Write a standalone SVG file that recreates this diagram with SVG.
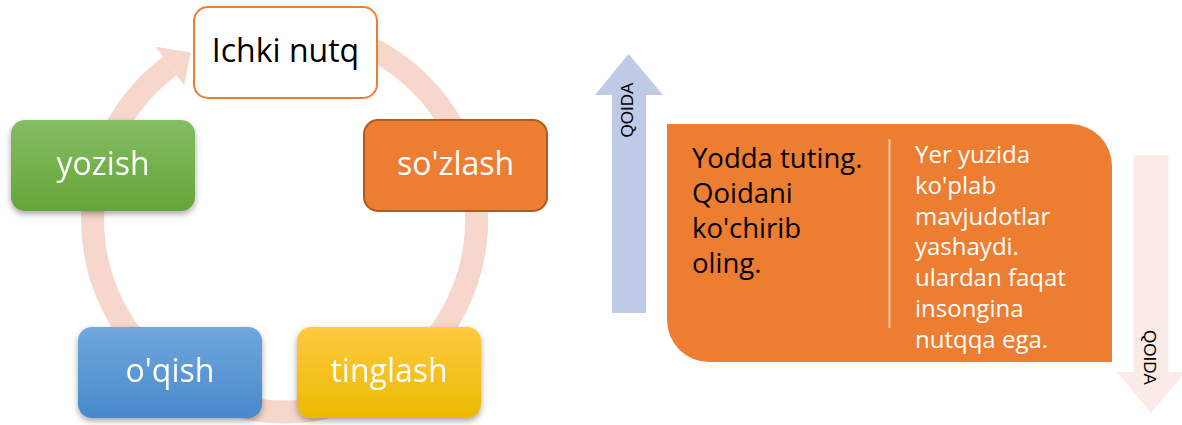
<svg xmlns="http://www.w3.org/2000/svg" width="1182" height="425" viewBox="0 0 1182 425">
<defs>
<linearGradient id="gGreen" x1="0" y1="0" x2="0" y2="1"><stop offset="0" stop-color="#85BD63"/><stop offset="1" stop-color="#64A538"/></linearGradient>
<linearGradient id="gBlue" x1="0" y1="0" x2="0" y2="1"><stop offset="0" stop-color="#70A7DD"/><stop offset="1" stop-color="#4889CB"/></linearGradient>
<linearGradient id="gYellow" x1="0" y1="0" x2="0" y2="1"><stop offset="0" stop-color="#FFC941"/><stop offset="1" stop-color="#EBBA00"/></linearGradient>
<filter id="shadow" x="-10%" y="-10%" width="120%" height="130%"><feDropShadow dx="0" dy="3" stdDeviation="3" flood-color="#000" flood-opacity="0.35"/></filter>
</defs>
<style>
.node rect{rx:14px;ry:14px}
.lbl{font-family:"Open Sans","Noto Sans",sans-serif;font-size:32px;text-anchor:middle;fill:#fff}
.dark{fill:#000}
.ring{fill:none;stroke:#F7D6CB;stroke-width:23}
.qoida{font-family:"Liberation Sans",Arial,sans-serif;font-size:17px;text-anchor:middle;fill:#000}
.body{font-family:"Open Sans","Noto Sans",sans-serif}
</style>
<g id="connectors">
<path class="ring" d="M 334.2 34.5 A 192 192 0 1 1 169.8 66.1"/>
<polygon points="155.4,46.8 190.8,52.4 184.1,85.3" fill="#F7D6CB"/>
</g>
<g id="node-ichki" class="node">
<rect x="194" y="7" width="183" height="91" fill="#fff" stroke="#ED7D31" stroke-width="2"/>
<text class="lbl dark" x="285.5" y="62">Ichki nutq</text>
</g>
<g id="node-sozlash" class="node">
<rect x="364" y="120" width="183" height="91" fill="#ED7D31" stroke="#AE5A21" stroke-width="2"/>
<text class="lbl" x="455.5" y="175">so'zlash</text>
</g>
<g id="node-tinglash" class="node" filter="url(#shadow)">
<rect x="297" y="327" width="184" height="91" fill="url(#gYellow)"/>
<text class="lbl" x="389" y="382">tinglash</text>
</g>
<g id="node-oqish" class="node" filter="url(#shadow)">
<rect x="78" y="327" width="184" height="91" fill="url(#gBlue)"/>
<text class="lbl" x="170" y="382">o'qish</text>
</g>
<g id="node-yozish" class="node" filter="url(#shadow)">
<rect x="11" y="120" width="184" height="91" fill="url(#gGreen)"/>
<text class="lbl" x="103" y="175">yozish</text>
</g>
<g id="arrow-up">
<polygon points="612,313 612,95 595,95 628.5,54 663,95 646,95 646,313" fill="#BFCAE6"/>
<text class="qoida" transform="translate(633,110) rotate(-90)">QOIDA</text>
</g>
<g id="arrow-down">
<polygon points="1133.5,155 1168.5,155 1168.5,372 1185,372 1151,413 1117,372 1133.5,372" fill="#FBEBE6"/>
<text class="qoida" transform="translate(1144,357.5) rotate(90)">QOIDA</text>
</g>
<g id="rule-box">
<path d="M 667 124 H 1070 A 42 42 0 0 1 1112 166 V 362 H 709 A 42 42 0 0 1 667 320 Z" fill="#ED7D31"/>
<line x1="889.5" y1="139" x2="889.5" y2="328" stroke="#F8CBAD" stroke-width="2"/>
<text class="body" font-size="27.5" fill="#000">
<tspan x="692" y="168">Yodda tuting.</tspan>
<tspan x="692" y="203">Qoidani</tspan>
<tspan x="692" y="238">ko'chirib</tspan>
<tspan x="692" y="273">oling.</tspan>
</text>
<text class="body" font-size="24" fill="#fff">
<tspan x="915" y="163">Yer yuzida</tspan>
<tspan x="915" y="193.8">ko'plab</tspan>
<tspan x="915" y="224.6">mavjudotlar</tspan>
<tspan x="915" y="255.4">yashaydi.</tspan>
<tspan x="915" y="286.2">ulardan faqat</tspan>
<tspan x="915" y="317">insongina</tspan>
<tspan x="915" y="347.8">nutqqa ega.</tspan>
</text>
</g>
</svg>
